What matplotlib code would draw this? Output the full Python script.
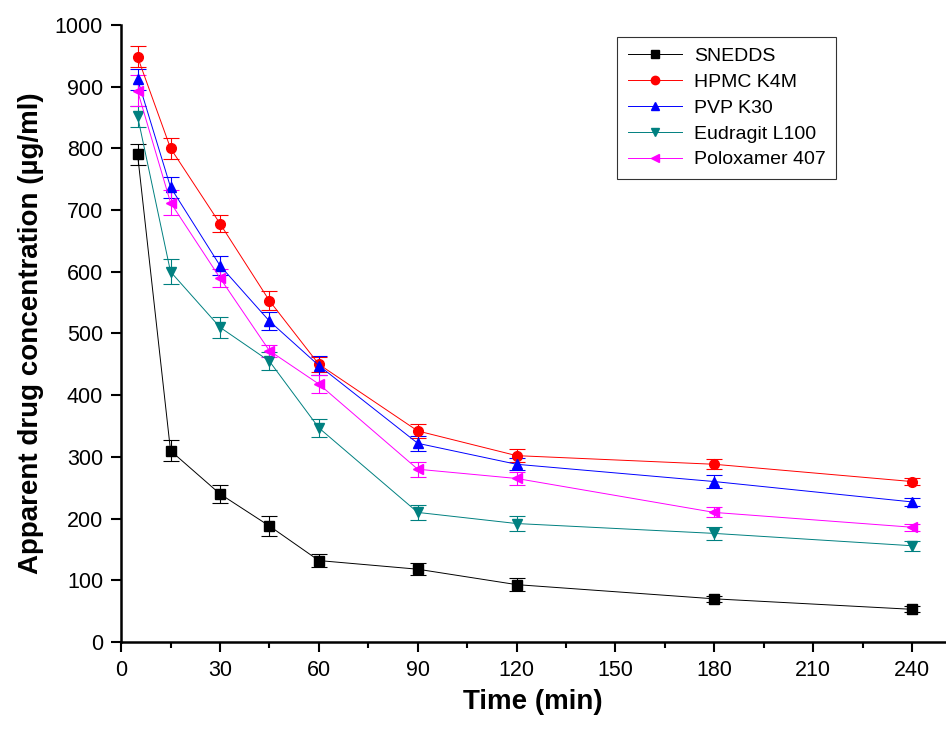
import matplotlib
matplotlib.use("Agg")
import matplotlib.pyplot as plt
from matplotlib.lines import Line2D
from matplotlib.ticker import MultipleLocator

time = [5, 15, 30, 45, 60, 90, 120, 180, 240]

snedds = [790, 310, 240, 188, 132, 118, 93, 70, 53]
snedds_err = [17, 17, 14, 17, 10, 10, 10, 5, 5]
hpmc = [948, 800, 678, 553, 450, 342, 302, 288, 260]
hpmc_err = [17, 17, 14, 15, 12, 12, 10, 8, 6]
pvp = [912, 737, 610, 520, 448, 322, 288, 260, 227]
pvp_err = [17, 17, 15, 15, 15, 12, 10, 10, 6]
eudragit = [852, 600, 510, 455, 347, 210, 192, 176, 156]
eudragit_err = [17, 20, 17, 15, 15, 12, 12, 10, 8]
poloxamer = [893, 712, 590, 472, 418, 280, 265, 210, 186]
poloxamer_err = [25, 20, 15, 10, 15, 12, 10, 8, 6]

series = [
    ("SNEDDS", snedds, snedds_err, "black", "s"),
    ("HPMC K4M", hpmc, hpmc_err, "red", "o"),
    ("PVP K30", pvp, pvp_err, "blue", "^"),
    ("Eudragit L100", eudragit, eudragit_err, "#008080", "v"),
    ("Poloxamer 407", poloxamer, poloxamer_err, "magenta", "<"),
]

fam = ["Liberation Sans Narrow", "Liberation Sans", "DejaVu Sans"]

fig = plt.figure(figsize=(9.46, 7.30), dpi=100)
ax = fig.add_axes([0.128, 0.1205, 0.871, 0.8455])

handles = []
for name, vals, err, col, mk in series:
    ax.errorbar(time, vals, yerr=err, color=col, marker=mk, markersize=7,
                linewidth=0.7, elinewidth=0.8, capsize=6, capthick=0.8)
    handles.append(Line2D([], [], color=col, marker=mk, markersize=6,
                          linewidth=0.7, label=name))

ax.set_xlim(0, 250)
ax.set_ylim(0, 1000)
ax.xaxis.set_major_locator(MultipleLocator(30))
ax.xaxis.set_minor_locator(MultipleLocator(15))
ax.yaxis.set_major_locator(MultipleLocator(100))

for s in ["top", "right"]:
    ax.spines[s].set_visible(False)
for s in ["left", "bottom"]:
    ax.spines[s].set_linewidth(1.8)

ax.tick_params(which="major", direction="out", length=7, width=1.5, pad=6)
ax.tick_params(which="minor", direction="out", length=4, width=1.5)
for lab in ax.get_xticklabels() + ax.get_yticklabels():
    lab.set_family(fam)
    lab.set_fontsize(15.5)

ax.set_xlabel("Time (min)", fontsize=20, fontweight="bold",
              family=["Liberation Sans", "DejaVu Sans"], labelpad=6)
ax.set_ylabel("Apparent drug concentration (\u00b5g/ml)", fontsize=20,
              fontweight="bold", family=["Liberation Sans", "DejaVu Sans"], labelpad=8)

leg = ax.legend(handles=handles, loc="upper left",
                bbox_to_anchor=(617 / 946, 1 - 37 / 730),
                bbox_transform=fig.transFigure, fancybox=False, frameon=True,
                prop={"family": ["Liberation Sans", "DejaVu Sans"], "size": 14},
                handlelength=2.8, borderaxespad=0, labelspacing=0.42,
                borderpad=0.55, handletextpad=0.6)
leg.get_frame().set_edgecolor("black")
leg.get_frame().set_linewidth(0.8)

fig.savefig("out.png", dpi=100)
